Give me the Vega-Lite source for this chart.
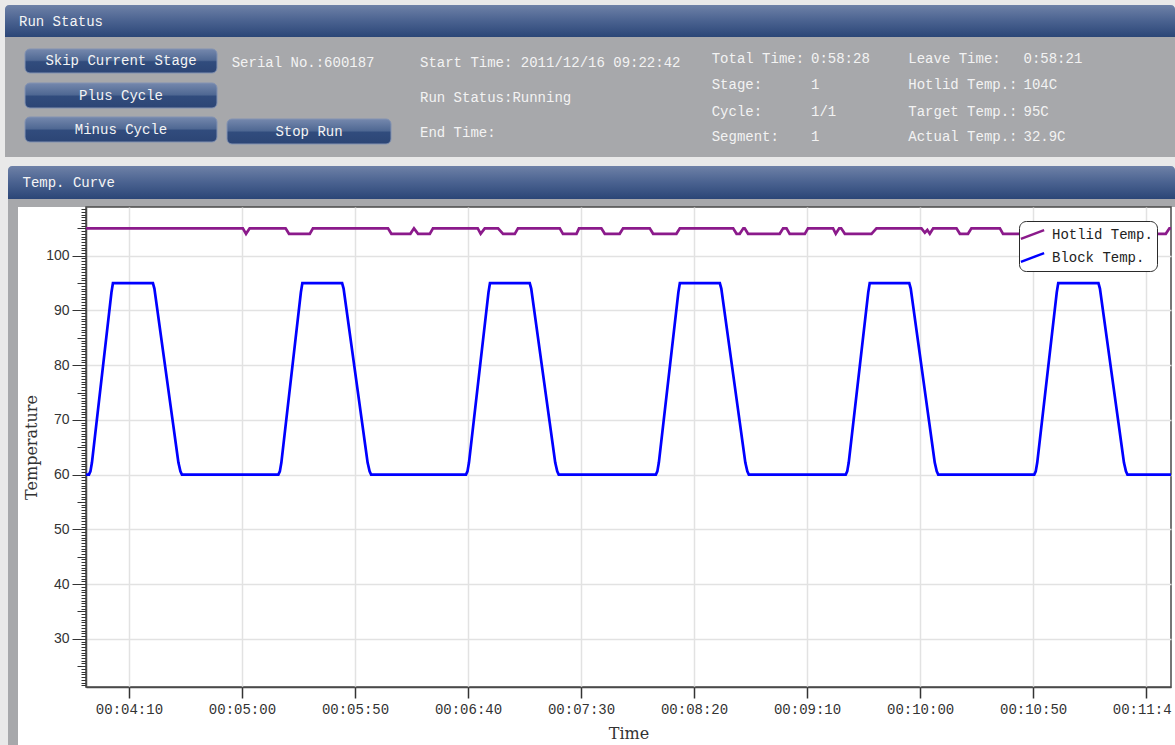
{
  "$schema": "https://vega.github.io/schema/vega-lite/v6.json",
  "background": "white",
  "padding": 0,
  "spacing": 0,
  "bounds": "flush",
  "config": {"view": {"stroke": null}, "font": "Liberation Mono"},
  "resolve": {"scale": {"color": "independent"}, "legend": {"color": "independent"}},
  "vconcat": [
    {
      "width": 1175,
      "height": 207,
      "view": {"fill": "#e9e9e9", "stroke": null},
      "encoding": {
        "x": {"field": "x0", "type": "quantitative", "axis": null,
              "scale": {"domain": [0,1,2,3,4,5,6,7,8,9,10,11,12,13,14,15,16,17], "range": [0,5,8,19,22.5,25,121,217,227,231.7,309,391,420,711.7,811,908.3,1023.5,1175], "nice": false, "zero": false}},
        "y": {"field": "y0", "type": "quantitative", "axis": null,
              "scale": {"domain": [0,1,2,3,4,5,6,7,8,9,10,11,12,13,14,15,16,17,18,19,20,21,22,23,24,25,26,27], "range": [0,5,22,37,49,59.3,61,63.3,73,83,85,95.7,98.3,108,111.7,117,119,129.5,131.7,133.3,136.7,142,144,157,166,183,199,207], "nice": false, "zero": false}}
      },
      "layer": [
        {
          "data": {"values": [{"x0": 1, "x1": 17, "y0": 3, "y1": 23}, {"x0": 2, "x1": 17, "y0": 26, "y1": 27}]},
          "mark": {"type": "rect", "fill": "#a7a8ab"},
          "encoding": {"x2": {"field": "x1"}, "y2": {"field": "y1"}}
        },
        {
          "data": {"values": [{"x0": 1, "x1": 17, "y0": 1, "y1": 3}, {"x0": 2, "x1": 17, "y0": 24, "y1": 26}]},
          "mark": {"type": "rect", "cornerRadiusTopLeft": 4, "cornerRadiusTopRight": 4,
                   "fill": {"gradient": "linear", "x1": 0, "y1": 0, "x2": 0, "y2": 1,
                            "stops": [{"offset": 0, "color": "#6e81a7"}, {"offset": 0.5, "color": "#4a6290"}, {"offset": 1, "color": "#2b4677"}]}},
          "encoding": {"x2": {"field": "x1"}, "y2": {"field": "y1"}}
        },
        {
          "data": {"values": [
            {"x0": 5, "x1": 7, "y0": 4, "y1": 8},
            {"x0": 5, "x1": 7, "y0": 9, "y1": 13},
            {"x0": 5, "x1": 7, "y0": 15, "y1": 21},
            {"x0": 8, "x1": 11, "y0": 16, "y1": 22}
          ]},
          "mark": {"type": "rect", "cornerRadius": 5, "stroke": "#8292b2", "strokeWidth": 1,
                   "fill": {"gradient": "linear", "x1": 0, "y1": 0, "x2": 0, "y2": 1,
                            "stops": [{"offset": 0, "color": "#7588ad"}, {"offset": 0.47, "color": "#4f6893"}, {"offset": 0.53, "color": "#314c7d"}, {"offset": 1, "color": "#2c4575"}]}},
          "encoding": {"x2": {"field": "x1"}, "y2": {"field": "y1"}}
        },
        {
          "data": {"values": [
            {"x0": 3, "y0": 2, "label": "Run Status"},
            {"x0": 4, "y0": 25, "label": "Temp. Curve"}
          ]},
          "mark": {"type": "text", "align": "left", "baseline": "middle", "font": "Liberation Mono", "fontSize": 14, "color": "#f5f5f5"},
          "encoding": {"text": {"field": "label"}}
        },
        {
          "data": {"values": [
            {"x0": 6, "y0": 6, "label": "Skip Current Stage"},
            {"x0": 6, "y0": 11, "label": "Plus Cycle"},
            {"x0": 6, "y0": 17, "label": "Minus Cycle"},
            {"x0": 10, "y0": 18, "label": "Stop Run"}
          ]},
          "mark": {"type": "text", "align": "center", "baseline": "middle", "font": "Liberation Mono", "fontSize": 14, "color": "#f4f4f4"},
          "encoding": {"text": {"field": "label"}}
        },
        {
          "data": {"values": [
            {"x0": 9, "y0": 7, "label": "Serial No.:600187"},
            {"x0": 12, "y0": 7, "label": "Start Time: 2011/12/16 09:22:42"},
            {"x0": 12, "y0": 12, "label": "Run Status:Running"},
            {"x0": 12, "y0": 19, "label": "End Time:"},
            {"x0": 13, "y0": 5, "label": "Total Time:"},
            {"x0": 14, "y0": 5, "label": "0:58:28"},
            {"x0": 13, "y0": 10, "label": "Stage:"},
            {"x0": 14, "y0": 10, "label": "1"},
            {"x0": 13, "y0": 14, "label": "Cycle:"},
            {"x0": 14, "y0": 14, "label": "1/1"},
            {"x0": 13, "y0": 20, "label": "Segment:"},
            {"x0": 14, "y0": 20, "label": "1"},
            {"x0": 15, "y0": 5, "label": "Leave Time:"},
            {"x0": 16, "y0": 5, "label": "0:58:21"},
            {"x0": 15, "y0": 10, "label": "Hotlid Temp.:"},
            {"x0": 16, "y0": 10, "label": "104C"},
            {"x0": 15, "y0": 14, "label": "Target Temp.:"},
            {"x0": 16, "y0": 14, "label": "95C"},
            {"x0": 15, "y0": 20, "label": "Actual Temp.:"},
            {"x0": 16, "y0": 20, "label": "32.9C"}
          ]},
          "mark": {"type": "text", "align": "left", "baseline": "middle", "font": "Liberation Mono", "fontSize": 14, "color": "#f3f3f3"},
          "encoding": {"text": {"field": "label"}}
        }
      ]
    },
    {
      "spacing": 68,
      "bounds": "flush",
      "resolve": {"scale": {"color": "independent"}, "legend": {"color": "independent"}},
      "hconcat": [
        {
          "width": 18,
          "height": 538,
          "encoding": {
            "x": {"field": "x0", "type": "quantitative", "axis": null, "scale": {"domain": [0, 1, 2], "range": [0, 8, 18], "nice": false, "zero": false}},
            "x2": {"field": "x1"}
          },
          "layer": [
            {"data": {"values": [{"x0": 0, "x1": 1}]}, "mark": {"type": "rect", "fill": "#e9e9e9"}},
            {"data": {"values": [{"x0": 1, "x1": 2}]}, "mark": {"type": "rect", "fill": "#a7a8ab"}}
          ]
        },
        {
          "width": 1085,
          "height": 480,
          "view": {"fill": "white", "stroke": "#4a4a4a", "strokeWidth": 1.5},
          "data": {"values": [
            {"series": "Hotlid Temp.", "t": 231, "temp": 105},
            {"series": "Hotlid Temp.", "t": 300.4, "temp": 105},
            {"series": "Hotlid Temp.", "t": 301.8, "temp": 104},
            {"series": "Hotlid Temp.", "t": 303.4, "temp": 105},
            {"series": "Hotlid Temp.", "t": 319.3, "temp": 105},
            {"series": "Hotlid Temp.", "t": 320.8, "temp": 104},
            {"series": "Hotlid Temp.", "t": 330.0, "temp": 104},
            {"series": "Hotlid Temp.", "t": 331.4, "temp": 105},
            {"series": "Hotlid Temp.", "t": 364.6, "temp": 105},
            {"series": "Hotlid Temp.", "t": 366.1, "temp": 104},
            {"series": "Hotlid Temp.", "t": 374.5, "temp": 104},
            {"series": "Hotlid Temp.", "t": 376.1, "temp": 105},
            {"series": "Hotlid Temp.", "t": 377.9, "temp": 104},
            {"series": "Hotlid Temp.", "t": 383.1, "temp": 104},
            {"series": "Hotlid Temp.", "t": 384.5, "temp": 105},
            {"series": "Hotlid Temp.", "t": 404.3, "temp": 105},
            {"series": "Hotlid Temp.", "t": 405.6, "temp": 104},
            {"series": "Hotlid Temp.", "t": 407.4, "temp": 105},
            {"series": "Hotlid Temp.", "t": 413.3, "temp": 105},
            {"series": "Hotlid Temp.", "t": 415.5, "temp": 104},
            {"series": "Hotlid Temp.", "t": 420.7, "temp": 104},
            {"series": "Hotlid Temp.", "t": 422.1, "temp": 105},
            {"series": "Hotlid Temp.", "t": 440.6, "temp": 105},
            {"series": "Hotlid Temp.", "t": 442.0, "temp": 104},
            {"series": "Hotlid Temp.", "t": 448.0, "temp": 104},
            {"series": "Hotlid Temp.", "t": 449.1, "temp": 105},
            {"series": "Hotlid Temp.", "t": 459.0, "temp": 105},
            {"series": "Hotlid Temp.", "t": 460.5, "temp": 104},
            {"series": "Hotlid Temp.", "t": 467.1, "temp": 104},
            {"series": "Hotlid Temp.", "t": 468.6, "temp": 105},
            {"series": "Hotlid Temp.", "t": 480.4, "temp": 105},
            {"series": "Hotlid Temp.", "t": 481.9, "temp": 104},
            {"series": "Hotlid Temp.", "t": 492.2, "temp": 104},
            {"series": "Hotlid Temp.", "t": 493.7, "temp": 105},
            {"series": "Hotlid Temp.", "t": 517.3, "temp": 105},
            {"series": "Hotlid Temp.", "t": 518.8, "temp": 104},
            {"series": "Hotlid Temp.", "t": 520.2, "temp": 104},
            {"series": "Hotlid Temp.", "t": 521.8, "temp": 105},
            {"series": "Hotlid Temp.", "t": 522.4, "temp": 105},
            {"series": "Hotlid Temp.", "t": 523.9, "temp": 104},
            {"series": "Hotlid Temp.", "t": 537.9, "temp": 104},
            {"series": "Hotlid Temp.", "t": 539.4, "temp": 105},
            {"series": "Hotlid Temp.", "t": 540.9, "temp": 105},
            {"series": "Hotlid Temp.", "t": 542.3, "temp": 104},
            {"series": "Hotlid Temp.", "t": 549.0, "temp": 104},
            {"series": "Hotlid Temp.", "t": 550.4, "temp": 105},
            {"series": "Hotlid Temp.", "t": 561.5, "temp": 105},
            {"series": "Hotlid Temp.", "t": 562.7, "temp": 104},
            {"series": "Hotlid Temp.", "t": 564.2, "temp": 105},
            {"series": "Hotlid Temp.", "t": 565.1, "temp": 105},
            {"series": "Hotlid Temp.", "t": 566.7, "temp": 104},
            {"series": "Hotlid Temp.", "t": 578.5, "temp": 104},
            {"series": "Hotlid Temp.", "t": 580.7, "temp": 105},
            {"series": "Hotlid Temp.", "t": 600.6, "temp": 105},
            {"series": "Hotlid Temp.", "t": 602.1, "temp": 104.2},
            {"series": "Hotlid Temp.", "t": 603.2, "temp": 104.7},
            {"series": "Hotlid Temp.", "t": 604.3, "temp": 104},
            {"series": "Hotlid Temp.", "t": 605.8, "temp": 105},
            {"series": "Hotlid Temp.", "t": 616.1, "temp": 105},
            {"series": "Hotlid Temp.", "t": 617.6, "temp": 104},
            {"series": "Hotlid Temp.", "t": 621.2, "temp": 104},
            {"series": "Hotlid Temp.", "t": 622.7, "temp": 105},
            {"series": "Hotlid Temp.", "t": 635.3, "temp": 105},
            {"series": "Hotlid Temp.", "t": 636.7, "temp": 104},
            {"series": "Hotlid Temp.", "t": 708.7, "temp": 104},
            {"series": "Hotlid Temp.", "t": 710.3, "temp": 105},
            {"series": "Hotlid Temp.", "t": 711, "temp": 105},

            {"series": "Block Temp.", "t": 231, "temp": 60},
            {"series": "Block Temp.", "t": 232.3, "temp": 60},
            {"series": "Block Temp.", "t": 232.96, "temp": 60.6},
            {"series": "Block Temp.", "t": 233.63, "temp": 62.2},
            {"series": "Block Temp.", "t": 242.26, "temp": 93.3},
            {"series": "Block Temp.", "t": 242.92, "temp": 95},
            {"series": "Block Temp.", "t": 260.6, "temp": 95},
            {"series": "Block Temp.", "t": 261.26, "temp": 94},
            {"series": "Block Temp.", "t": 269.45, "temp": 69.5},
            {"series": "Block Temp.", "t": 270.78, "temp": 65.5},
            {"series": "Block Temp.", "t": 271.88, "temp": 62.2},
            {"series": "Block Temp.", "t": 272.77, "temp": 60.6},
            {"series": "Block Temp.", "t": 273.43, "temp": 60},
            {"series": "Block Temp.", "t": 316.1, "temp": 60},
            {"series": "Block Temp.", "t": 316.76, "temp": 60.6},
            {"series": "Block Temp.", "t": 317.43, "temp": 62.2},
            {"series": "Block Temp.", "t": 326.06, "temp": 93.3},
            {"series": "Block Temp.", "t": 326.72, "temp": 95},
            {"series": "Block Temp.", "t": 344.3, "temp": 95},
            {"series": "Block Temp.", "t": 344.96, "temp": 94},
            {"series": "Block Temp.", "t": 353.15, "temp": 69.5},
            {"series": "Block Temp.", "t": 354.48, "temp": 65.5},
            {"series": "Block Temp.", "t": 355.58, "temp": 62.2},
            {"series": "Block Temp.", "t": 356.47, "temp": 60.6},
            {"series": "Block Temp.", "t": 357.13, "temp": 60},
            {"series": "Block Temp.", "t": 399.1, "temp": 60},
            {"series": "Block Temp.", "t": 399.76, "temp": 60.6},
            {"series": "Block Temp.", "t": 400.43, "temp": 62.2},
            {"series": "Block Temp.", "t": 409.06, "temp": 93.3},
            {"series": "Block Temp.", "t": 409.72, "temp": 95},
            {"series": "Block Temp.", "t": 427.3, "temp": 95},
            {"series": "Block Temp.", "t": 427.96, "temp": 94},
            {"series": "Block Temp.", "t": 436.15, "temp": 69.5},
            {"series": "Block Temp.", "t": 437.48, "temp": 65.5},
            {"series": "Block Temp.", "t": 438.58, "temp": 62.2},
            {"series": "Block Temp.", "t": 439.47, "temp": 60.6},
            {"series": "Block Temp.", "t": 440.13, "temp": 60},
            {"series": "Block Temp.", "t": 483.1, "temp": 60},
            {"series": "Block Temp.", "t": 483.76, "temp": 60.6},
            {"series": "Block Temp.", "t": 484.43, "temp": 62.2},
            {"series": "Block Temp.", "t": 493.06, "temp": 93.3},
            {"series": "Block Temp.", "t": 493.72, "temp": 95},
            {"series": "Block Temp.", "t": 511.4, "temp": 95},
            {"series": "Block Temp.", "t": 512.06, "temp": 94},
            {"series": "Block Temp.", "t": 520.25, "temp": 69.5},
            {"series": "Block Temp.", "t": 521.58, "temp": 65.5},
            {"series": "Block Temp.", "t": 522.68, "temp": 62.2},
            {"series": "Block Temp.", "t": 523.57, "temp": 60.6},
            {"series": "Block Temp.", "t": 524.23, "temp": 60},
            {"series": "Block Temp.", "t": 567.1, "temp": 60},
            {"series": "Block Temp.", "t": 567.76, "temp": 60.6},
            {"series": "Block Temp.", "t": 568.43, "temp": 62.2},
            {"series": "Block Temp.", "t": 577.06, "temp": 93.3},
            {"series": "Block Temp.", "t": 577.72, "temp": 95},
            {"series": "Block Temp.", "t": 595.2, "temp": 95},
            {"series": "Block Temp.", "t": 595.86, "temp": 94},
            {"series": "Block Temp.", "t": 604.05, "temp": 69.5},
            {"series": "Block Temp.", "t": 605.38, "temp": 65.5},
            {"series": "Block Temp.", "t": 606.48, "temp": 62.2},
            {"series": "Block Temp.", "t": 607.37, "temp": 60.6},
            {"series": "Block Temp.", "t": 608.03, "temp": 60},
            {"series": "Block Temp.", "t": 650.5, "temp": 60},
            {"series": "Block Temp.", "t": 651.16, "temp": 60.6},
            {"series": "Block Temp.", "t": 651.83, "temp": 62.2},
            {"series": "Block Temp.", "t": 660.46, "temp": 93.3},
            {"series": "Block Temp.", "t": 661.12, "temp": 95},
            {"series": "Block Temp.", "t": 678.9, "temp": 95},
            {"series": "Block Temp.", "t": 679.56, "temp": 94},
            {"series": "Block Temp.", "t": 687.75, "temp": 69.5},
            {"series": "Block Temp.", "t": 689.08, "temp": 65.5},
            {"series": "Block Temp.", "t": 690.18, "temp": 62.2},
            {"series": "Block Temp.", "t": 691.07, "temp": 60.6},
            {"series": "Block Temp.", "t": 691.73, "temp": 60},
            {"series": "Block Temp.", "t": 711, "temp": 60}
          ]},
          "mark": {"type": "line", "strokeWidth": 2.7, "clip": true},
          "encoding": {
            "x": {
              "field": "t", "type": "quantitative",
              "scale": {"domain": [231, 711], "nice": false, "zero": false},
              "axis": {
                "values": [250, 300, 350, 400, 450, 500, 550, 600, 650, 700],
                "labelExpr": "datum.value >= 700 ? '00:11:4' : utcFormat(datum.value * 1000, '%H:%M:%S')",
                "labelFont": "Liberation Mono", "labelFontSize": 14, "labelColor": "#333333",
                "labelOffset": {"condition": {"test": "datum.value >= 700", "value": -4.5}, "value": 0},
                "labelPadding": 4, "labelOverlap": false, "labelFlush": false, "labelBound": false,
                "tickSize": 11, "tickColor": "#333333", "tickWidth": 1.5,
                "domainColor": "#4a4a4a", "domainWidth": 1.5,
                "grid": true, "gridColor": "#e2e2e2", "gridWidth": 1.5,
                "title": "Time", "titleFont": "DejaVu Serif", "titleFontSize": 16, "titleFontWeight": "normal", "titleColor": "#333333", "titlePadding": 9
              }
            },
            "y": {
              "field": "temp", "type": "quantitative",
              "scale": {"domain": [21.2, 108.9], "nice": false, "zero": false},
              "axis": {
                "tickCount": 175,
                "format": ".0f",
                "labelExpr": "(datum.value % 10 === 0 && datum.value >= 30 && datum.value <= 100) ? datum.label : ''",
                "labelFont": "Liberation Sans", "labelFontSize": 14, "labelColor": "#333333",
                "labelOverlap": false, "labelPadding": 3,
                "tickSize": {"condition": [{"test": "datum.value % 10 === 0", "value": 14}, {"test": "datum.value % 5 === 0", "value": 9}], "value": 5},
                "tickColor": "#333333", "tickWidth": 1,
                "domainColor": "#4a4a4a", "domainWidth": 1.5,
                "grid": true, "gridColor": "#e2e2e2", "gridWidth": 1.5,
                "gridOpacity": {"condition": {"test": "datum.value % 10 === 0", "value": 1}, "value": 0},
                "title": "Temperature", "titleFont": "DejaVu Serif", "titleFontSize": 16, "titleFontWeight": "normal", "titleColor": "#333333", "titlePadding": 6
              }
            },
            "color": {
              "field": "series", "type": "nominal",
              "scale": {"domain": ["Hotlid Temp.", "Block Temp."], "range": ["#8b1a8b", "#0000ff"]},
              "legend": {
                "title": null, "orient": "top-right", "offset": 14,
                "fillColor": "white", "strokeColor": "#2a2a2a", "cornerRadius": 7, "padding": 4,
                "symbolType": "M-1.45,0.55L1.45,-0.55", "symbolSize": 256, "symbolStrokeWidth": 2.5,
                "labelFont": "Liberation Mono", "labelFontSize": 14, "labelColor": "#222222", "labelOffset": 10,
                "rowPadding": 4
              }
            }
          }
        }
      ]
    }
  ]
}
